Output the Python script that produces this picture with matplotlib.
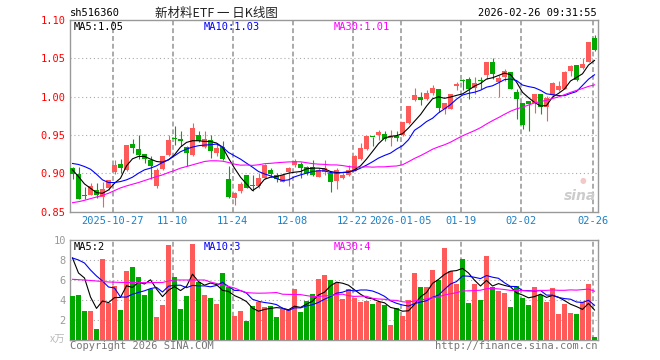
import matplotlib
matplotlib.use("Agg")
import matplotlib.pyplot as plt

# daily candles, index 0 = first visible day
opens = [.9066, .8996, .8715, .8716, .8781, .8694, .8803, .9017, .9122, .9044,
         .9385, .9319, .925, .9175, .8834, .9052, .924, .9463, .945, .934,
         .924, .9503, .934, .9437, .9262, .934, .893, .8681, .8773, .8978,
         .8847, .8834, .8934, .9044, .8978, .8891, .9013, .9109, .9122, .9079,
         .9087, .8948, .9022, .9009, .8904, .8934, .8978, .9035, .9184, .9319,
         .9477, .9503, .9516, .9455, .9481, .9503, .9656, .9953, .9997, .9971,
         1.0045, 1.0101, .9843, .9843, 1.014, 1.0218, 1.0236, 1.0109, 1.0216, 1.028,
         1.0446, 1.0192, 1.0262, 1.0315, 1.0061, .9913, .9943, .9921, 1.0031, .9869,
         1.0017, 1.0087, 1.0105, 1.0337, 1.0411, 1.0367, 1.0455, 1.0765]
closes = [.8996, .8668, .8706, .8834, .8711, .8799, .8913, .9105, .9074, .9372,
          .9323, .924, .9184, .9096, .9044, .9219, .9437, .945, .9415, .9262,
          .959, .9415, .945, .9284, .9328, .9184, .8694, .8738, .886, .8812,
          .8838, .8934, .9109, .8991, .8926, .8978, .9066, .9153, .9066, .9009,
          .8978, .9044, .9066, .8891, .9044, .8978, .9044, .9219, .9328, .949,
          .9468, .9533, .9446, .9481, .9455, .9664, .9883, 1.0027, .9953, 1.005,
          1.0114, .9853, .9921, 1.0031, 1.0162, 1.021, 1.0096, 1.0184, 1.021, 1.0446,
          1.0293, 1.0249, 1.0337, 1.0105, .9965, .9624, .9899, 1.0031, .9869, .9987,
          1.0184, 1.014, 1.0315, 1.0394, 1.0219, 1.0424, 1.0709, 1.0612]
highs = [.9087, .9079, .8825, .8869, .8869, .8891, .8913, .9175, .9188, .9372,
         .945, .950, .925, .9219, .9066, .9227, .950, .9612, .9555, .9358,
         .9656, .9547, .9547, .9503, .9393, .9415, .9096, .876, .8891, .8978,
         .8978, .90, .9122, .9074, .9009, .90, .9079, .9184, .914, .91,
         .9166, .9066, .9166, .9009, .9066, .90, .9109, .924, .9393, .949,
         .9477, .9568, .9547, .956, .9555, .9664, .9883, 1.0114, 1.0062, 1.0084,
         1.015, 1.0101, .9921, 1.0031, 1.0192, 1.0236, 1.0262, 1.0262, 1.0262, 1.0446,
         1.0499, 1.028, 1.0359, 1.0315, 1.0105, .9913, .9943, 1.0031, 1.0031, 1.0009,
         1.0192, 1.0206, 1.0337, 1.0411, 1.0411, 1.0499, 1.0709, 1.0805]
lows = [.8926, .866, .8668, .8716, .8672, .8554, .878, .899, .90, .903,
        .927, .9184, .913, .8921, .8803, .9044, .9219, .9372, .9358, .9096,
        .9227, .9402, .9328, .9197, .9219, .9175, .8681, .8585, .8747, .8803,
        .8773, .8803, .8925, .8948, .8891, .8891, .8834, .9087, .8934, .8978,
        .8965, .8948, .8978, .8751, .879, .8926, .8965, .9035, .9175, .9306,
        .9358, .9437, .9415, .9358, .9415, .949, .9647, .994, .9887, .9953,
        1.0027, .9795, .9768, .9834, 1.0087, 1.0087, .9974, 1.0031, 1.0096, 1.0227,
        1.0227, 1.00, 1.0206, 1.0096, .9703, .9571, .955, .979, .9768, .9681,
        1.00, 1.0074, 1.0096, 1.0271, 1.0206, 1.0359, 1.0446, 1.0599]

# moving averages as they appear on the chart
ma5 = [.9044, .8956, .886, .8803, .8746, .8738, .8781, .8869, .8934, .9096,
       .9188, .9219, .9219, .9184, .9153, .9144, .9175, .924, .9341, .9402,
       .9424, .9424, .9415, .9415, .9394, .9341, .9197, .9066, .8948, .886,
       .8773, .8825, .8921, .8948, .8956, .8978, .90, .9013, .9022, .9057,
       .9066, .9066, .9057, .9022, .9009, .9009, .9013, .9044, .9096, .9184,
       .9284, .9385, .9459, .9481, .949, .9516, .959, .9678, .9765, .9875,
       .9971, .9997, .9978, .9994, 1.0016, 1.0035, 1.0084, 1.0137, 1.0172, 1.0229,
       1.0246, 1.0276, 1.0307, 1.0286, 1.019, 1.0056, .9986, .9925, .9878, .9882,
       .9994, 1.0042, 1.0099, 1.0204, 1.025, 1.0298, 1.0412, 1.0472]
ma10 = [.9127, .9114, .9087, .9052, .8987, .8913, .8878, .8878, .8891, .8913,
        .8948, .90, .9044, .9066, .9096, .914, .9175, .9227, .928, .9315,
        .9341, .9359, .9367, .9372, .938, .9341, .9271, .9227, .9184, .9131,
        .9079, .9022, .8991, .8965, .893, .8904, .8913, .8952, .8978, .90,
        .9022, .9031, .9031, .9009, .90, .9009, .9017, .9031, .9066, .9105,
        .9149, .9197, .9232, .9262, .9315, .9359, .9437, .956, .9612, .9674,
        .9717, .9787, .984, .9895, .9966, 1.002, 1.0042, 1.0057, 1.0083, 1.0123,
        1.0141, 1.018, 1.0222, 1.0229, 1.021, 1.0151, 1.0131, 1.0116, 1.0082, 1.0036,
        1.0025, 1.0014, 1.0012, 1.0041, 1.0066, 1.0146, 1.0227, 1.0285]
ma30 = [.8615, .8628, .8646, .8668, .8689, .8711, .8738, .8773, .8808, .8834,
        .8856, .8878, .8904, .893, .8956, .8978, .9009, .9035, .9066, .9087,
        .9109, .9131, .9153, .9162, .9162, .9157, .914, .9118, .9105, .9107,
        .9102, .911, .9124, .9129, .9136, .9142, .9147, .9149, .9149, .9137,
        .9125, .9118, .9115, .9108, .9108, .91, .9087, .9079, .9076, .9084,
        .9079, .9083, .9083, .909, .9094, .911, .915, .9193, .9229, .927,
        .9313, .9344, .9371, .9405, .9447, .9488, .9522, .9556, .9594, .9642,
        .9686, .9726, .9769, .9809, .984, .9861, .989, .9917, .9935, .9952,
        .9975, .9996, 1.0025, 1.0055, 1.0081, 1.0106, 1.0133, 1.0153]

# volume (x万)
volume = [4.4, 4.5, 2.9, 2.9, 1.1, 8.1, 3.7, 5.4, 3.0, 6.9,
          7.3, 6.3, 4.5, 5.1, 2.3, 3.5, 9.5, 6.3, 3.1, 4.4,
          9.6, 5.8, 4.5, 4.2, 3.6, 6.7, 5.3, 2.4, 2.9, 1.9,
          3.4, 3.8, 3.3, 3.4, 2.3, 3.1, 3.0, 5.1, 2.8, 3.9,
          4.6, 6.1, 6.5, 6.0, 5.7, 4.1, 5.1, 4.2, 3.8, 3.9,
          3.6, 3.8, 3.5, 1.5, 3.2, 2.4, 4.0, 6.7, 5.3, 5.3,
          7.0, 6.0, 9.2, 6.9, 5.6, 8.1, 3.7, 5.6, 4.0, 8.4,
          5.3, 4.9, 4.7, 3.3, 5.4, 4.2, 3.5, 5.3, 4.5, 3.8,
          5.2, 2.6, 3.6, 2.7, 2.6, 3.8, 5.6, 0.3]
vma5 = [8.2, 6.7, 6.2, 4.3, 3.16, 3.9, 3.74, 4.24, 4.26, 5.42,
        5.26, 5.78, 5.6, 6.02, 5.1, 4.34, 4.98, 5.34, 4.94, 5.36,
        6.58, 5.84, 5.48, 5.7, 5.54, 4.96, 4.86, 4.44, 4.18, 3.84,
        3.18, 2.88, 3.06, 3.16, 3.24, 3.18, 3.02, 3.38, 3.26, 3.58,
        3.88, 4.5, 4.78, 5.42, 5.78, 5.68, 5.48, 5.02, 4.58, 4.22,
        4.12, 3.86, 3.72, 3.26, 3.12, 2.88, 2.92, 3.56, 4.32, 4.74,
        5.66, 6.06, 6.56, 6.88, 6.94, 7.16, 6.7, 5.98, 5.4, 5.96,
        5.4, 5.64, 5.46, 5.32, 4.72, 4.5, 4.22, 4.34, 4.58, 4.26,
        4.46, 4.28, 3.94, 3.58, 3.34, 3.06, 3.66, 3.0]
vma10 = [8.2, 8.0, 7.7, 7.0, 6.4, 5.9, 5.3, 5.2, 4.3, 4.29,
         4.58, 4.76, 4.92, 5.14, 5.26, 4.8, 5.38, 5.47, 5.48, 5.23,
         5.46, 5.41, 5.41, 5.32, 5.45, 5.77, 5.35, 4.96, 4.94, 4.69,
         4.07, 3.87, 3.75, 3.67, 3.54, 3.18, 2.95, 3.22, 3.21, 3.41,
         3.53, 3.76, 4.08, 4.34, 4.68, 4.78, 4.99, 4.9, 5.0, 5.0,
         4.9, 4.67, 4.37, 3.92, 3.67, 3.5, 3.39, 3.64, 3.79, 3.93,
         4.27, 4.49, 5.06, 5.6, 5.84, 6.41, 6.38, 6.27, 6.14, 6.45,
         6.28, 6.17, 5.72, 5.36, 5.34, 4.95, 4.93, 4.9, 4.95, 4.49,
         4.48, 4.25, 4.14, 4.08, 3.8, 3.76, 3.97, 3.47]
vma30 = [6.07, 6.03, 6.0, 5.95, 5.9, 5.85, 5.8, 5.78, 5.76, 5.75,
         5.75, 5.74, 5.74, 5.74, 5.75, 5.75, 5.9, 6.0, 6.0, 6.0,
         6.0, 6.0, 6.0, 5.8, 5.65, 5.5, 5.35, 5.2, 4.95, 4.74,
         4.70, 4.68, 4.69, 4.71, 4.75, 4.58, 4.56, 4.55, 4.54, 4.44,
         4.35, 4.35, 4.41, 4.44, 4.56, 4.58, 4.43, 4.36, 4.38, 4.37,
         4.17, 4.1, 4.07, 3.98, 3.96, 3.82, 3.78, 3.92, 4.0, 4.11,
         4.23, 4.31, 4.5, 4.62, 4.73, 4.9, 4.92, 4.94, 4.98, 5.13,
         5.15, 5.11, 5.05, 4.96, 4.95, 4.95, 4.9, 4.94, 4.96, 4.96,
         5.01, 4.97, 4.97, 5.01, 4.99, 5.04, 5.09, 4.88]

tick_idx = [7, 17, 27, 37, 47, 55, 65, 75, 87]
tick_lab = ['2025-10-27', '11-10', '11-24', '12-08', '12-22',
            '2026-01-05', '01-19', '02-02', '02-26']
price_ticks = [0.85, 0.90, 0.95, 1.00, 1.05, 1.10]
vol_ticks = [2, 4, 6, 8, 10]

RED = '#ff5a5a'
GREEN = '#00a800'
GRAY = '#999999'

plt.rcParams['font.family'] = ['DejaVu Sans Mono']
W, H = 660, 360
fig = plt.figure(figsize=(W / 100, H / 100), dpi=100)
fig.patch.set_facecolor('white')


def box(x0, y0, x1, y1):
    return [x0 / W, 1 - y1 / H, (x1 - x0) / W, (y1 - y0) / H]


def px(x, y):
    return x / W, 1 - y / H


n = len(closes)
xs = list(range(n))
cols = [RED if c >= o else GREEN for o, c in zip(opens, closes)]
bw = 5 / 6
xlim = (-0.4167, 87.583)
tick_x = [i - 0.333 for i in tick_idx]

ax = fig.add_axes(box(70, 20, 598, 211.5))
ax2 = fig.add_axes(box(70, 240, 598, 340))

for a in (ax, ax2):
    a.set_xlim(*xlim)
    for s in a.spines.values():
        s.set_color(GRAY)
        s.set_linewidth(1.0)
    for t in tick_x:
        a.axvline(t, color='#aaaaaa', lw=1.4, ls=(0, (2.5, 1.5)), zorder=0)
    a.tick_params(length=0)

# price panel
ax.set_ylim(0.85, 1.10)
for g in price_ticks[1:-1]:
    ax.axhline(g, color='#aaaaaa', lw=0.8, ls=(0, (1, 2.5)), zorder=0)
lo = [min(o, c) for o, c in zip(opens, closes)]
hgt = [max(abs(c - o), 0.0013) for o, c in zip(opens, closes)]
ax.vlines(xs, lows, highs, colors=cols, lw=0.8, zorder=2)
ax.bar(xs, hgt, bottom=lo, width=bw, color=cols, linewidth=0, zorder=3)
ax.plot(xs, ma5, color='black', lw=0.8, zorder=4)
ax.plot(xs, ma10, color='#0000ff', lw=0.8, zorder=4)
ax.plot(xs, ma30, color='#ff00ff', lw=0.8, zorder=4)
ax.set_yticks(price_ticks)
ax.set_yticklabels(['%.2f' % v for v in price_ticks], color='#ff0000', fontsize=7.5)
ax.set_xticks(tick_x)
ax.set_xticklabels(tick_lab, color='#1a80c8', fontsize=7.5)
ax.tick_params(axis='y', pad=3)
ax.tick_params(axis='x', pad=3)

# volume panel
ax2.set_ylim(0, 10)
for g in vol_ticks[:-1]:
    ax2.axhline(g, color='#aaaaaa', lw=0.8, ls=(0, (1, 2.5)), zorder=0)
ax2.bar(xs, volume, width=bw, color=cols, linewidth=0, zorder=3)
ax2.plot(xs, vma5, color='black', lw=0.8, zorder=4)
ax2.plot(xs, vma10, color='#0000ff', lw=0.8, zorder=4)
ax2.plot(xs, vma30, color='#ff00ff', lw=0.8, zorder=4)
ax2.set_yticks(vol_ticks)
ax2.set_yticklabels([str(v) for v in vol_ticks], color=GRAY, fontsize=7.5)
ax2.set_xticks([])
ax2.tick_params(axis='y', pad=3)

# header texts
fig.text(*px(70, 16.5), 'sh516360', fontsize=7.5, va='baseline', ha='left')
fig.text(*px(216, 16.5), '新材料ETF 一 日K线图', fontsize=9, va='baseline',
         ha='center', color='#222222', family=['Noto Sans CJK SC', 'DejaVu Sans'])
fig.text(*px(597, 16.5), '2026-02-26 09:31:55', fontsize=7.5, va='baseline', ha='right')

fig.text(*px(74, 30), 'MA5:1.05', fontsize=7.5, va='baseline', color='black')
fig.text(*px(204, 30), 'MA10:1.03', fontsize=7.5, va='baseline', color='#0000ff')
fig.text(*px(334, 30), 'MA30:1.01', fontsize=7.5, va='baseline', color='#ff00ff')

fig.text(*px(74, 249.5), 'MA5:2', fontsize=7.5, va='baseline', color='black')
fig.text(*px(204, 249.5), 'MA10:3', fontsize=7.5, va='baseline', color='#0000ff')
fig.text(*px(334, 249.5), 'MA30:4', fontsize=7.5, va='baseline', color='#ff00ff')

fig.text(*px(65, 340), 'x万', fontsize=7.5, va='center', ha='right', color='#bbbbbb',
         family=['Noto Sans CJK SC', 'DejaVu Sans'], style='italic')
fig.text(*px(70, 349), 'Copyright 2026 SINA.COM', fontsize=7.5, va='baseline',
         ha='left', color='#777777')
fig.text(*px(597, 349), 'http://finance.sina.com.cn', fontsize=7.5, va='baseline',
         ha='right', color='#777777')

# sina watermark
fig.text(*px(580, 200), 'sina', fontsize=10, va='baseline', ha='center', color='#cccccc',
         family='DejaVu Sans', weight='bold', style='italic')
fig.text(*px(583, 180), '●', fontsize=5.5, va='center', ha='center', color='#f2c8c8',
         family='DejaVu Sans')

fig.savefig('out.png', dpi=100, facecolor='white')
